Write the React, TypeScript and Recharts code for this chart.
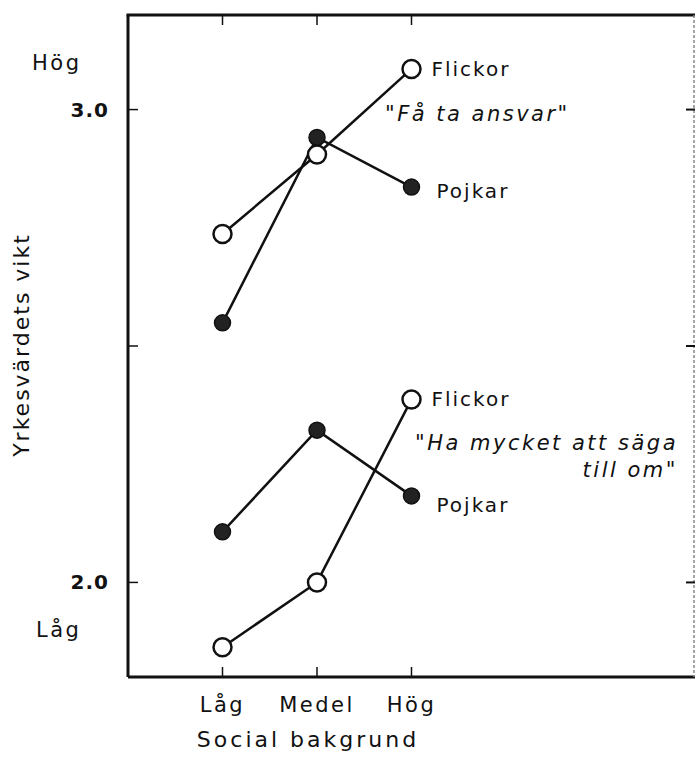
import { LineChart, Line, XAxis, YAxis } from 'recharts';

const FONT = '"DejaVu Sans", "Noto Sans", sans-serif';
const INK = '#111';

// social background levels (x) and their positions on the numeric axis
const levels = ['Låg', 'Medel', 'Hög'];
const levelPos = [1, 2, 3];
const levelDomain = [0, 6];

// "Få ta ansvar"
const flickorAnsvar = [2.737, 2.905, 3.086];
const pojkarAnsvar = [2.549, 2.941, 2.836];
// "Ha mycket att säga till om"
const flickorSaga = [1.863, 2.0, 2.387];
const pojkarSaga = [2.107, 2.322, 2.183];

const valueDomain = [1.8, 3.2];
const valueTicks = [2.0, 2.5, 3.0];
const valueTickLabels = ['2.0', '', '3.0'];

const data = levels.map((name, i) => ({
  x: levelPos[i],
  name,
  fa: flickorAnsvar[i],
  pa: pojkarAnsvar[i],
  fs: flickorSaga[i],
  ps: pojkarSaga[i],
}));

// chart geometry
const W = 696;
const H = 776;
const MARGIN = { top: 15, right: 1, bottom: 39, left: 68 };
const Y_AXIS_W = 60;
const X_AXIS_H = 60;
const PLOT_LEFT = MARGIN.left + Y_AXIS_W;
const PLOT_RIGHT = W - MARGIN.right;
const PLOT_TOP = MARGIN.top;
const PLOT_BOTTOM = H - MARGIN.bottom - X_AXIS_H;
const xOf = (v: number) =>
  PLOT_LEFT + ((v - levelDomain[0]) / (levelDomain[1] - levelDomain[0])) * (PLOT_RIGHT - PLOT_LEFT);
const yOf = (v: number) =>
  PLOT_BOTTOM - ((v - valueDomain[0]) / (valueDomain[1] - valueDomain[0])) * (PLOT_BOTTOM - PLOT_TOP);

const openDot = { r: 9, fill: '#fff', stroke: INK, strokeWidth: 2.5 };
const filledDot = { r: 8, fill: '#222', stroke: INK, strokeWidth: 1.5 };

const endLabel = (text: string, dx: number, dy: number) => (props: any) => {
  const { x, y, index } = props;
  if (index !== levels.length - 1) return null;
  return (
    <text
      x={x + dx}
      y={y + dy}
      dominantBaseline="central"
      fontFamily={FONT}
      fontSize={20}
      letterSpacing={2}
      fill={INK}
    >
      {text}
    </text>
  );
};

// tick marks point into the plot; labels sit outside
const BottomTick = (p: any) => {
  const label = levels[levelPos.indexOf(p.payload.value)] ?? '';
  return (
    <g>
      <line x1={p.x} x2={p.x} y1={p.y} y2={p.y - 10} stroke={INK} strokeWidth={1.5} />
      <text x={p.x} y={p.y + 28} textAnchor="middle" dominantBaseline="central" fontFamily={FONT} fontSize={21} letterSpacing={2.5} fill={INK}>
        {label}
      </text>
    </g>
  );
};

const LeftTick = (p: any) => {
  const label = valueTickLabels[valueTicks.indexOf(p.payload.value)] ?? '';
  return (
    <g>
      <line x1={p.x} x2={p.x + 10} y1={p.y} y2={p.y} stroke={INK} strokeWidth={1.5} />
      <text x={p.x - 19} y={p.y} textAnchor="end" dominantBaseline="central" fontFamily={FONT} fontSize={20} fontWeight="bold" letterSpacing={1} fill={INK}>
        {label}
      </text>
    </g>
  );
};

const textStyle: React.CSSProperties = {
  position: 'absolute',
  fontFamily: FONT,
  fontSize: 21,
  letterSpacing: 2.5,
  color: INK,
  whiteSpace: 'nowrap',
  lineHeight: 1,
};

export default function App() {
  return (
    <div style={{ position: 'absolute', left: 0, top: 0, width: W, height: H, background: '#fff' }}>
      <LineChart width={W} height={H} data={data} margin={MARGIN}>
        <XAxis
          xAxisId="b"
          type="number"
          dataKey="x"
          domain={levelDomain}
          ticks={levelPos}
          interval={0}
          axisLine={{ stroke: INK, strokeWidth: 3 }}
          tickLine={false}
          tickSize={0}
          tickMargin={0}
          height={X_AXIS_H}
          tick={BottomTick}
          allowDataOverflow
        />
        <YAxis
          yAxisId="l"
          type="number"
          domain={valueDomain}
          ticks={valueTicks}
          interval={0}
          axisLine={{ stroke: INK, strokeWidth: 3 }}
          tickLine={false}
          tickSize={0}
          tickMargin={0}
          width={Y_AXIS_W}
          tick={LeftTick}
          allowDataOverflow
        />

        <Line
          xAxisId="b"
          yAxisId="l"
          dataKey="pa"
          stroke={INK}
          strokeWidth={2.5}
          dot={filledDot}
          activeDot={false}
          isAnimationActive={false}
          label={endLabel('Pojkar', 25, 4)}
        />
        <Line
          xAxisId="b"
          yAxisId="l"
          dataKey="fa"
          stroke={INK}
          strokeWidth={2.5}
          dot={openDot}
          activeDot={false}
          isAnimationActive={false}
          label={endLabel('Flickor', 20, 0)}
        />
        <Line
          xAxisId="b"
          yAxisId="l"
          dataKey="ps"
          stroke={INK}
          strokeWidth={2.5}
          dot={filledDot}
          activeDot={false}
          isAnimationActive={false}
          label={endLabel('Pojkar', 25, 9)}
        />
        <Line
          xAxisId="b"
          yAxisId="l"
          dataKey="fs"
          stroke={INK}
          strokeWidth={2.5}
          dot={openDot}
          activeDot={false}
          isAnimationActive={false}
          label={endLabel('Flickor', 20, 0)}
        />
      </LineChart>

      {/* top and right edges of the frame, with inward ticks */}
      <svg width={W} height={H} style={{ position: 'absolute', left: 0, top: 0, pointerEvents: 'none' }}>
        <line x1={PLOT_LEFT - 1.5} x2={PLOT_RIGHT} y1={PLOT_TOP} y2={PLOT_TOP} stroke={INK} strokeWidth={3} />
        <line x1={PLOT_RIGHT - 1} x2={PLOT_RIGHT - 1} y1={PLOT_TOP} y2={PLOT_BOTTOM} stroke="#888" strokeWidth={1.5} strokeDasharray="3 2" />
        {levelPos.map((v) => (
          <line key={`t${v}`} x1={xOf(v)} x2={xOf(v)} y1={PLOT_TOP} y2={PLOT_TOP + 10} stroke={INK} strokeWidth={1.5} />
        ))}
        {valueTicks.map((v) => (
          <line key={`r${v}`} x1={PLOT_RIGHT} x2={PLOT_RIGHT - 9} y1={yOf(v)} y2={yOf(v)} stroke={INK} strokeWidth={2} />
        ))}
      </svg>

      <div style={{ ...textStyle, left: 32, top: 53 }}>Hög</div>
      <div style={{ ...textStyle, left: 36, top: 620 }}>Låg</div>
      <div style={{ ...textStyle, left: 385, top: 104, fontStyle: 'italic' }}>"Få ta ansvar"</div>
      <div style={{ ...textStyle, right: W - 678, top: 430, fontStyle: 'italic', textAlign: 'right', lineHeight: '27px' }}>
        "Ha mycket att säga
        <br />
        till om"
      </div>
      <div
        style={{
          ...textStyle,
          fontSize: 22,
          letterSpacing: 2,
          left: 22,
          top: 345,
          transform: 'translate(-50%, -50%) rotate(-90deg)',
        }}
      >
        Yrkesvärdets vikt
      </div>
      <div style={{ ...textStyle, fontSize: 22, letterSpacing: 3, left: 308, top: 740, transform: 'translate(-50%, -50%)' }}>
        Social bakgrund
      </div>
    </div>
  );
}
